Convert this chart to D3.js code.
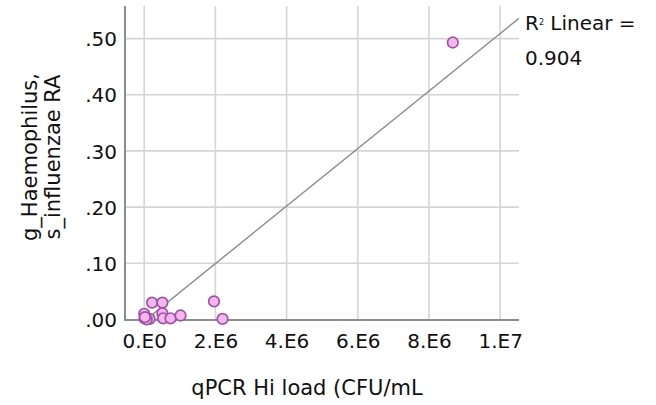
<!DOCTYPE html>
<html>
<head>
<meta charset="utf-8">
<script src="https://cdn.jsdelivr.net/npm/d3@7"></script>
<style>
  html, body { margin: 0; padding: 0; background: #ffffff; }
  svg { display: block; }
  text { font-family: "DejaVu Sans", sans-serif; fill: #111111; }
</style>
</head>
<body>
<svg id="chart" width="656" height="405"></svg>
<script>
// qPCR H. influenzae load (CFU/mL) vs. relative abundance
const qpcrLoad = [0, 10000, 150000, 70000, 20000, 220000, 510000, 510000, 530000, 740000, 1020000, 1960000, 2200000, 8670000];
const relAbund = [0.010, 0.002, 0.001, 0.000, 0.004, 0.030, 0.030, 0.011, 0.002, 0.002, 0.007, 0.032, 0.001, 0.493];

// Tick values and their labels
const xTicks = [0, 2e6, 4e6, 6e6, 8e6, 1e7];
const xTickLabels = ["0.E0", "2.E6", "4.E6", "6.E6", "8.E6", "1.E7"];
const yTicks = [0, 0.1, 0.2, 0.3, 0.4, 0.5];
const yTickLabels = [".00", ".10", ".20", ".30", ".40", ".50"];

// Linear fit line
const fitIntercept = -0.003;
const fitSlope = 0.0512e-6;
const fitR2 = "0.904";

const svg = d3.select("#chart");
const plotL = 125, plotR = 519, plotT = 6, plotB = 320;

const x = d3.scaleLinear().domain([-0.54e6, 10.53e6]).range([plotL, plotR]);
const y = d3.scaleLinear().domain([-0.001, 0.558]).range([plotB, plotT]);

// Grid lines
const grid = svg.append("g").attr("stroke", "#d5d5d5").attr("stroke-width", 1.6);
grid.selectAll("line.v").data(xTicks).join("line")
  .attr("x1", d => x(d)).attr("x2", d => x(d))
  .attr("y1", plotT).attr("y2", plotB);
grid.selectAll("line.h").data(yTicks.filter(d => d > 0)).join("line")
  .attr("x1", plotL).attr("x2", plotR)
  .attr("y1", d => y(d)).attr("y2", d => y(d));

// Axes (labels only; frame lines drawn separately)
const xAxis = d3.axisBottom(x).tickValues(xTicks).tickFormat((d, i) => xTickLabels[i]).tickSize(0).tickPadding(0);
const yAxis = d3.axisLeft(y).tickValues(yTicks).tickFormat((d, i) => yTickLabels[i]).tickSize(0).tickPadding(0);

const gx = svg.append("g").attr("transform", `translate(0,${plotB})`).call(xAxis);
gx.select(".domain").remove();
gx.selectAll("text").attr("font-size", 20).attr("font-family", "DejaVu Sans")
  .attr("fill", "#111111").attr("dy", null).attr("y", 28);

const gy = svg.append("g").attr("transform", `translate(${plotL},0)`).call(yAxis);
gy.select(".domain").remove();
gy.selectAll("text").attr("font-size", 20).attr("font-family", "DejaVu Sans")
  .attr("fill", "#111111").attr("x", -8).attr("dy", "0.36em");

// Axis frame
svg.append("path")
  .attr("d", `M${plotL},${plotT}V${plotB}H${plotR}`)
  .attr("fill", "none").attr("stroke", "#8c8c8c").attr("stroke-width", 2);

// Fit line, clipped to the plot area
svg.append("clipPath").attr("id", "plotClip")
  .append("rect").attr("x", plotL).attr("y", plotT).attr("width", plotR - plotL).attr("height", plotB - plotT);
const xd = x.domain();
svg.append("line")
  .attr("clip-path", "url(#plotClip)")
  .attr("x1", x(xd[0])).attr("y1", y(fitIntercept + fitSlope * xd[0]))
  .attr("x2", x(xd[1])).attr("y2", y(fitIntercept + fitSlope * xd[1]))
  .attr("stroke", "#8a8a8a").attr("stroke-width", 1.4);

// Points
svg.append("g").selectAll("circle").data(qpcrLoad).join("circle")
  .attr("cx", d => x(d))
  .attr("cy", (d, i) => y(relAbund[i]))
  .attr("r", 5.3)
  .attr("fill", "#f4b6ec")
  .attr("stroke", "#9e52aa")
  .attr("stroke-width", 1.7);

// Fit annotation
const ann = svg.append("text").attr("x", 525).attr("y", 30).attr("font-size", 20);
ann.append("tspan").text("R");
ann.append("tspan").attr("font-size", 8).attr("dy", -5).text("2");
ann.append("tspan").attr("dy", 5).text(" Linear =");
svg.append("text").attr("x", 525).attr("y", 65).attr("font-size", 20).text(fitR2);

// Axis titles
svg.append("text").attr("x", 307).attr("y", 395).attr("text-anchor", "middle")
  .attr("font-size", 21).text("qPCR Hi load (CFU/mL");

const yt = svg.append("text").attr("transform", "translate(37,157) rotate(-90)")
  .attr("text-anchor", "middle").attr("font-size", 21);
yt.append("tspan").attr("x", 0).attr("y", 0).text("g_Haemophilus,");
yt.append("tspan").attr("x", 0).attr("y", 23).text("s_influenzae RA");
</script>
</body>
</html>
